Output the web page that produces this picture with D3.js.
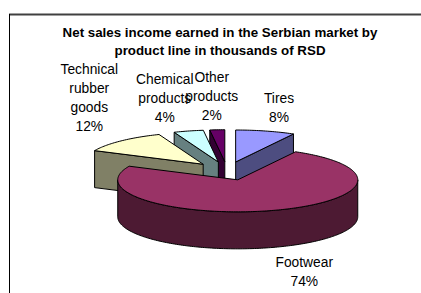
<!DOCTYPE html>
<html>
<head>
<meta charset="utf-8">
<script src="https://cdn.jsdelivr.net/npm/d3@7/dist/d3.min.js"></script>
<style>
  body { margin: 0; background: #fff; }
  svg { display: block; }
  text { font-family: "Liberation Sans", Arial, sans-serif; fill: #000; }
</style>
</head>
<body>
<div id="chart"></div>
<script>
// data
const categories = ["Tires", "Footwear", "Technical rubber goods", "Chemical products", "Other products"];
const values = [8, 74, 12, 4, 2];
const colors = ["#9999ff", "#993366", "#ffffcc", "#ccffff", "#660066"];
const titleLines = ["Net sales income earned in the Serbian market by", "product line in thousands of RSD"];

const width = 421, height = 293;
const cx = 227, cy = 171;          // pie centre (top face)
const rx = 120, ry = 32, depth = 37;
const explode = 0.29;              // in radius units
const titleSize = 13.33, fontSize = 13.8, lineH = 19, capH = 0.716 * fontSize;

const svg = d3.select("#chart").append("svg")
  .attr("width", width)
  .attr("height", height);

// chart frame (only top and left edges fall inside the picture)
svg.append("line")
  .attr("x1", 9).attr("x2", width).attr("y1", 14.5).attr("y2", 14.5)
  .attr("stroke", "#404040").attr("stroke-width", 2);
svg.append("line")
  .attr("x1", 9.5).attr("x2", 9.5).attr("y1", 14).attr("y2", height)
  .attr("stroke", "#000").attr("stroke-width", 1);

// title
svg.append("g").selectAll("text")
  .data(titleLines)
  .enter().append("text")
  .attr("x", 220)
  .attr("y", (d, i) => 37 + i * 18)
  .attr("text-anchor", "middle")
  .style("font-size", titleSize + "px")
  .style("font-weight", "bold")
  .text(d => d);

const color = d3.scaleOrdinal().domain(categories).range(colors);
const side = c => {
  const k = d3.rgb(color(c));
  return d3.rgb(k.r * 0.5, k.g * 0.5, k.b * 0.5).formatHex();
};

const arcs = d3.pie().sort(null).value(d => d)(values)
  .map((a, i) => {
    const mid = (a.startAngle + a.endAngle) / 2;
    return {
      ...a,
      name: categories[i],
      mid,
      x: cx + explode * rx * Math.sin(mid),
      y: cy - explode * ry * Math.cos(mid)
    };
  });

// point on the rim of a slice, dz pushes it down to the bottom face
const pt = (s, a, dz = 0) => [s.x + rx * Math.sin(a), s.y - ry * Math.cos(a) + dz];

function arcPts(s, a0, a1, dz) {
  const n = Math.max(2, Math.ceil((a1 - a0) / 0.02));
  return d3.range(n + 1).map(k => pt(s, a0 + (a1 - a0) * k / n, dz));
}

const line = d3.line();

const pieG = svg.append("g")
  .attr("stroke", "#000")
  .attr("stroke-width", 1)
  .attr("stroke-linejoin", "round");

// back slices first
arcs.slice().sort((a, b) => a.y - b.y).forEach(s => {
  const g = pieG.append("g");
  const c = [s.x, s.y], cb = [s.x, s.y + depth];

  // radial faces
  if (Math.sin(s.startAngle) < -1e-6) {
    g.append("path")
      .attr("d", line([c, pt(s, s.startAngle), pt(s, s.startAngle, depth), cb]) + "Z")
      .attr("fill", side(s.name));
  }
  if (Math.sin(s.endAngle) > 1e-6) {
    g.append("path")
      .attr("d", line([c, pt(s, s.endAngle), pt(s, s.endAngle, depth), cb]) + "Z")
      .attr("fill", side(s.name));
  }

  // outer wall, front half only
  const t0 = Math.max(s.startAngle, Math.PI / 2);
  const t1 = Math.min(s.endAngle, Math.PI * 1.5);
  if (t1 > t0) {
    const pts = arcPts(s, t0, t1, 0).concat(arcPts(s, t0, t1, depth).reverse());
    g.append("path")
      .attr("d", line(pts) + "Z")
      .attr("fill", side(s.name));
  }

  // top face
  g.append("path")
    .attr("d", line([c].concat(arcPts(s, s.startAngle, s.endAngle, 0))) + "Z")
    .attr("fill", color(s.name));
});

// data labels, placed outside the rim like Excel does
const clamp = v => Math.max(-1, Math.min(1, v));
const labelG = svg.append("g");
const total = d3.sum(values);
arcs.forEach(s => {
  const lines = s.name.split(" ").concat([Math.round(s.value / total * 100) + "%"]);
  const front = Math.cos(s.mid) < 0;
  const [ax, ay] = pt(s, s.mid, front ? depth : 0);

  const t = labelG.append("text")
    .attr("text-anchor", "middle")
    .style("font-size", fontSize + "px");
  const spans = t.selectAll("tspan").data(lines).enter().append("tspan").text(d => d);

  const w = d3.max(spans.nodes(), n => n.getComputedTextLength());
  const hv = ((lines.length - 1) * lineH + capH) / 2;
  const lx = ax + clamp(3 * Math.sin(s.mid)) * (w / 2 + 3);
  const ly = ay + clamp(-3 * Math.cos(s.mid)) * (hv + 9.5);
  const y0 = ly - hv + capH;

  spans.attr("x", lx).attr("y", (d, i) => y0 + i * lineH);
});
</script>
</body>
</html>
